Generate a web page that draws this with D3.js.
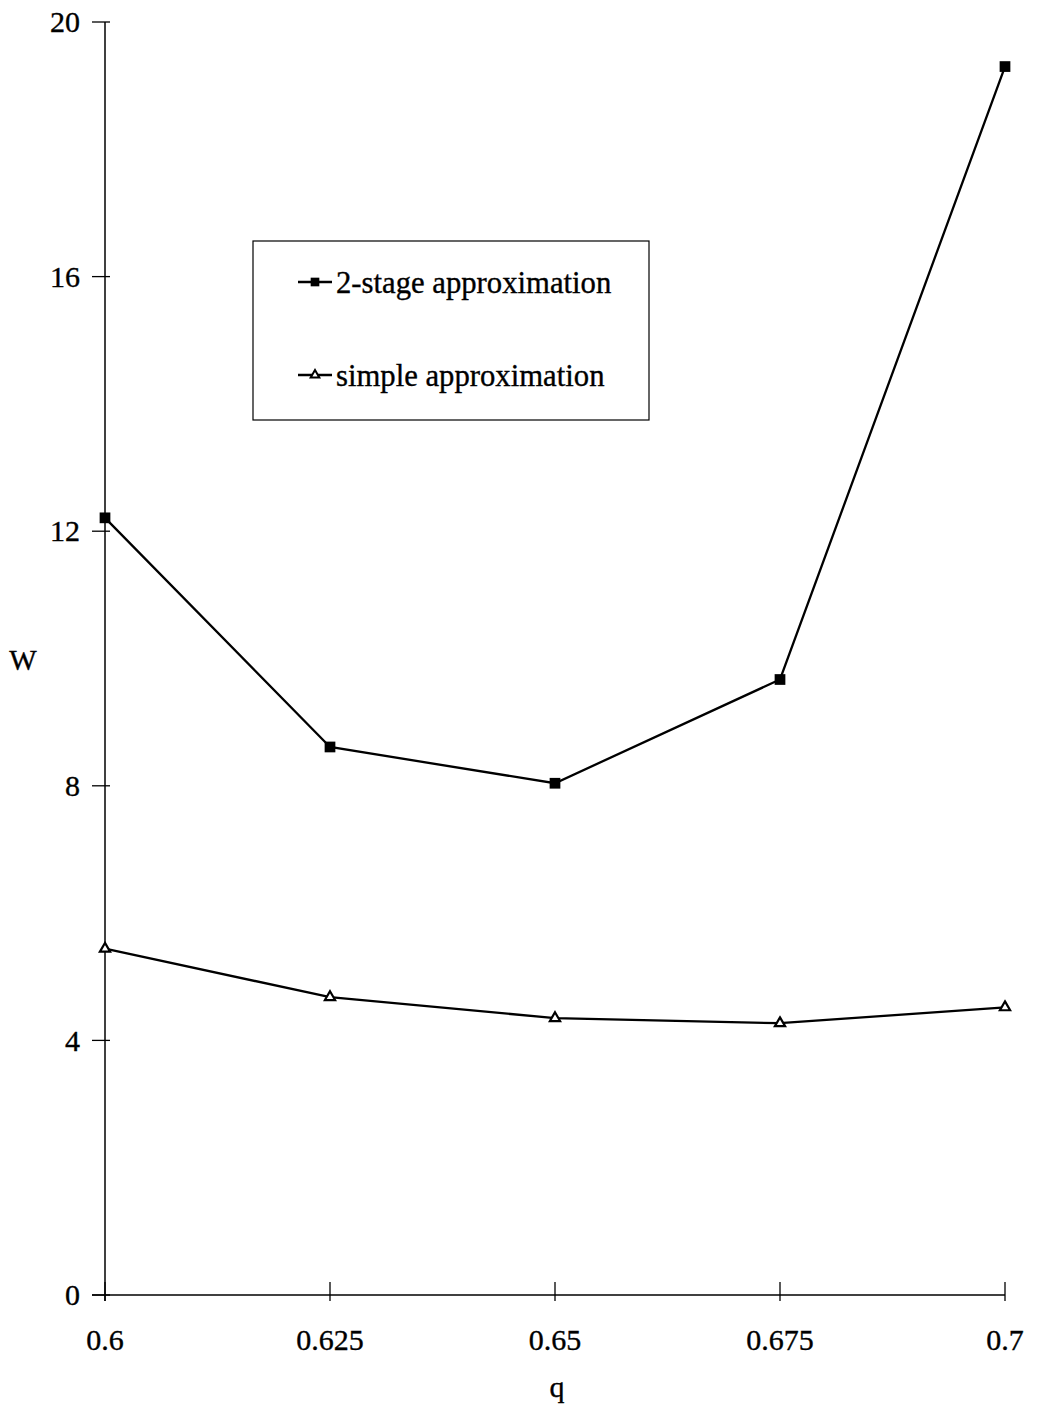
<!DOCTYPE html>
<html>
<head>
<meta charset="utf-8">
<script src="https://cdn.jsdelivr.net/npm/d3@7"></script>
<style>
body { margin: 0; background: #fff; overflow: hidden; }
text { font-family: "Liberation Serif", "DejaVu Serif", serif; fill: #000; stroke: #000; stroke-width: 0.35px; }
</style>
</head>
<body>
<svg width="1038" height="1417"></svg>
<script>
// values
const qValues = [0.6, 0.625, 0.65, 0.675, 0.7];
const twoStage = [12.21, 8.61, 8.04, 9.67, 19.3];
const simple = [5.44, 4.68, 4.35, 4.27, 4.52];
const yTicks = [0, 4, 8, 12, 16, 20];
const xTickLabels = ['0.6', '0.625', '0.65', '0.675', '0.7'];
const seriesNames = ['2-stage approximation', 'simple approximation'];

const svg = d3.select('svg');

const x = d3.scaleLinear().domain([0.6, 0.7]).range([105, 1005]);
const y = d3.scaleLinear().domain([0, 20]).range([1295, 22]);

// y axis
const yAxis = svg.append('g');
yAxis.append('line')
  .attr('x1', x(0.6)).attr('x2', x(0.6))
  .attr('y1', y(20)).attr('y2', y(0) + 6)
  .attr('stroke', '#000').attr('stroke-width', 1.5);
yAxis.selectAll('.yt').data(yTicks).enter().append('line')
  .attr('x1', x(0.6) - 13).attr('x2', x(0.6) + 5)
  .attr('y1', d => y(d)).attr('y2', d => y(d))
  .attr('stroke', '#000').attr('stroke-width', 1.3);
yAxis.selectAll('.yl').data(yTicks).enter().append('text')
  .attr('x', x(0.6) - 25).attr('y', d => y(d))
  .attr('dy', '0.34em')
  .attr('text-anchor', 'end')
  .style('font-size', '30px')
  .text(d => d);

// x axis
const xAxis = svg.append('g');
xAxis.append('line')
  .attr('x1', x(0.6) - 13).attr('x2', x(0.7))
  .attr('y1', y(0)).attr('y2', y(0))
  .attr('stroke', '#000').attr('stroke-width', 1.5);
xAxis.selectAll('.xt').data(qValues).enter().append('line')
  .attr('x1', d => x(d)).attr('x2', d => x(d))
  .attr('y1', y(0) - 13).attr('y2', y(0) + 6)
  .attr('stroke', '#000').attr('stroke-width', 1.3);
xAxis.selectAll('.xl').data(qValues).enter().append('text')
  .attr('x', d => x(d)).attr('y', y(0) + 55)
  .attr('text-anchor', 'middle')
  .style('font-size', '30px')
  .text((d, i) => xTickLabels[i]);

// axis titles
svg.append('text').attr('x', 23).attr('y', 670)
  .attr('text-anchor', 'middle').style('font-size', '29px').text('W');
svg.append('text').attr('x', 557).attr('y', 1397)
  .attr('text-anchor', 'middle').style('font-size', '30px').text('q');

// lines
const line = d3.line().x(d => x(d[0])).y(d => y(d[1]));
const twoData = qValues.map((q, i) => [q, twoStage[i]]);
const simpleData = qValues.map((q, i) => [q, simple[i]]);

svg.append('path').datum(twoData).attr('d', line)
  .attr('fill', 'none').attr('stroke', '#000').attr('stroke-width', 2.3);
svg.append('path').datum(simpleData).attr('d', line)
  .attr('fill', 'none').attr('stroke', '#000').attr('stroke-width', 2.3);

const sq = d3.symbol().type(d3.symbolSquare).size(115);
const tri = d3.symbol().type(d3.symbolTriangle).size(45);

svg.selectAll('.m1').data(twoData).enter().append('path')
  .attr('d', sq)
  .attr('transform', d => `translate(${x(d[0])},${y(d[1])})`)
  .attr('fill', '#000');
svg.selectAll('.m2').data(simpleData).enter().append('path')
  .attr('d', tri)
  .attr('transform', d => `translate(${x(d[0])},${y(d[1])})`)
  .attr('fill', '#fff').attr('stroke', '#000').attr('stroke-width', 2.2);

// legend
const lg = svg.append('g');
lg.append('rect')
  .attr('x', 253).attr('y', 241).attr('width', 396).attr('height', 179)
  .attr('fill', '#fff').attr('stroke', '#000').attr('stroke-width', 1.2);
const items = [
  { name: seriesNames[0], ly: 282, marker: d3.symbol().type(d3.symbolSquare).size(75)(), fill: '#000' },
  { name: seriesNames[1], ly: 375, marker: d3.symbol().type(d3.symbolTriangle).size(32)(), fill: '#fff' }
];
items.forEach(it => {
  lg.append('line').attr('x1', 298).attr('x2', 332)
    .attr('y1', it.ly).attr('y2', it.ly)
    .attr('stroke', '#000').attr('stroke-width', 2.3);
  lg.append('path').attr('d', it.marker)
    .attr('transform', `translate(315,${it.ly})`)
    .attr('fill', it.fill).attr('stroke', '#000').attr('stroke-width', it.fill === '#fff' ? 2 : 0);
  lg.append('text').attr('x', 336).attr('y', it.ly + 11)
    .style('font-size', '30.7px').text(it.name);
});
</script>
</body>
</html>
